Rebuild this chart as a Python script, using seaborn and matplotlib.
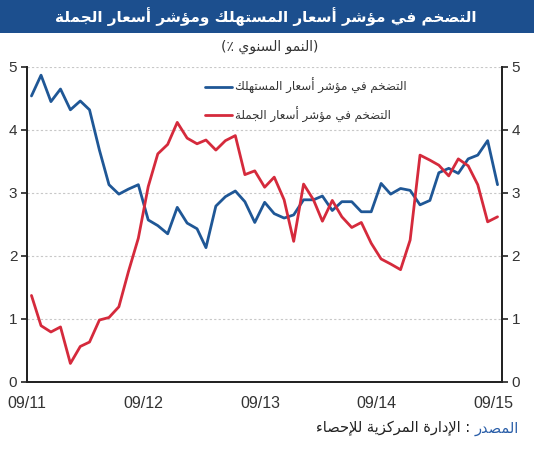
import numpy as np
import pandas as pd
import matplotlib
matplotlib.use("Agg")
import matplotlib.pyplot as plt
from matplotlib.patches import Rectangle
import seaborn as sns

# ---------------- data ----------------
first_month = "2011-09-01"
cpi = [4.54, 4.87, 4.45, 4.65, 4.32, 4.46, 4.32, 3.68, 3.13, 2.98, 3.06, 3.13,
       2.57, 2.48, 2.35, 2.77, 2.52, 2.43, 2.13, 2.79, 2.94, 3.03, 2.86, 2.53,
       2.85, 2.67, 2.60, 2.65, 2.89, 2.89, 2.95, 2.72, 2.86, 2.86, 2.70, 2.70,
       3.15, 2.98, 3.07, 3.04, 2.81, 2.88, 3.32, 3.39, 3.31, 3.54, 3.60, 3.83,
       3.13]
wpi = [1.37, 0.89, 0.79, 0.87, 0.29, 0.56, 0.63, 0.98, 1.02, 1.19, 1.75, 2.28,
       3.10, 3.62, 3.77, 4.12, 3.87, 3.78, 3.84, 3.68, 3.83, 3.91, 3.29, 3.35,
       3.09, 3.25, 2.89, 2.23, 3.14, 2.89, 2.55, 2.88, 2.62, 2.45, 2.53, 2.20,
       1.95, 1.87, 1.78, 2.25, 3.60, 3.52, 3.44, 3.27, 3.54, 3.43, 3.13, 2.54,
       2.62]
tick_dates = ["2011-09-01", "2012-09-01", "2013-09-01", "2014-09-01", "2015-09-01"]
tick_labels = ["09/11", "09/12", "09/13", "09/14", "09/15"]
y_ticks = [0, 1, 2, 3, 4, 5]

title = "التضخم في مؤشر أسعار المستهلك ومؤشر أسعار الجملة"
subtitle = "(النمو السنوي ٪)"
label_cpi = "التضخم في مؤشر أسعار المستهلك"
label_wpi = "التضخم في مؤشر أسعار الجملة"
source_head = "المصدر"
source_body = " : الإدارة المركزية للإحصاء"

# ---------------- Arabic shaping (presentation forms + RTL order) ----------------
FORMS = {
    '\u0621': (0xFE80, 1), '\u0622': (0xFE81, 2), '\u0623': (0xFE83, 2),
    '\u0624': (0xFE85, 2), '\u0625': (0xFE87, 2), '\u0626': (0xFE89, 4),
    '\u0627': (0xFE8D, 2), '\u0628': (0xFE8F, 4), '\u0629': (0xFE93, 2),
    '\u062A': (0xFE95, 4), '\u062B': (0xFE99, 4), '\u062C': (0xFE9D, 4),
    '\u062D': (0xFEA1, 4), '\u062E': (0xFEA5, 4), '\u062F': (0xFEA9, 2),
    '\u0630': (0xFEAB, 2), '\u0631': (0xFEAD, 2), '\u0632': (0xFEAF, 2),
    '\u0633': (0xFEB1, 4), '\u0634': (0xFEB5, 4), '\u0635': (0xFEB9, 4),
    '\u0636': (0xFEBD, 4), '\u0637': (0xFEC1, 4), '\u0638': (0xFEC5, 4),
    '\u0639': (0xFEC9, 4), '\u063A': (0xFECD, 4), '\u0641': (0xFED1, 4),
    '\u0642': (0xFED5, 4), '\u0643': (0xFED9, 4), '\u0644': (0xFEDD, 4),
    '\u0645': (0xFEE1, 4), '\u0646': (0xFEE5, 4), '\u0647': (0xFEE9, 4),
    '\u0648': (0xFEED, 2), '\u0649': (0xFEEF, 2), '\u064A': (0xFEF1, 4),
}
LAMALEF = {'\u0622': 0xFEF5, '\u0623': 0xFEF7, '\u0625': 0xFEF9, '\u0627': 0xFEFB}


def shape_ar(text):
    toks = []
    i = 0
    while i < len(text):
        c = text[i]
        if c == '\u0644' and i + 1 < len(text) and text[i + 1] in LAMALEF:
            toks.append(('LA', text[i + 1]))
            i += 2
        else:
            toks.append(('C', c))
            i += 1

    def joins_next(t):
        return t[0] == 'C' and t[1] in FORMS and FORMS[t[1]][1] == 4

    def joining(t):
        return t[0] == 'LA' or (t[1] in FORMS and FORMS[t[1]][1] >= 2)

    out = []
    for k, t in enumerate(toks):
        prev = toks[k - 1] if k > 0 else None
        nxt = toks[k + 1] if k + 1 < len(toks) else None
        pj = prev is not None and joins_next(prev) and joining(t)
        if t[0] == 'LA':
            base = LAMALEF[t[1]]
            out.append(chr(base + 1 if pj else base))
            continue
        c = t[1]
        if c not in FORMS:
            out.append(c)
            continue
        st, n = FORMS[c]
        nj = n == 4 and nxt is not None and joining(nxt)
        if n == 1:
            out.append(chr(st))
        elif pj and nj:
            out.append(chr(st + 3))
        elif pj:
            out.append(chr(st + 1))
        elif nj:
            out.append(chr(st + 2))
        else:
            out.append(chr(st))
    s = ''.join(out)[::-1]
    return s.translate(str.maketrans('()', ')('))


# ---------------- frame ----------------
dates = pd.date_range(first_month, periods=len(cpi), freq="MS") + pd.Timedelta(days=14)
df = pd.DataFrame({"date": dates, "cpi": cpi, "wpi": wpi})

sns.set_style("white")
plt.rcParams["font.family"] = ["DejaVu Sans"]

W, H = 534, 450
fig = plt.figure(figsize=(W / 100, H / 100), dpi=100)
ax = fig.add_axes([27 / W, 1 - 381.7 / H, (502 - 27) / W, (381.7 - 67) / H])
ax2 = ax.twinx()

blue = "#1f5796"
red = "#d52a3c"
sns.lineplot(data=df, x="date", y="cpi", ax=ax, color=blue, linewidth=2.0,
             label=shape_ar(label_cpi))
sns.lineplot(data=df, x="date", y="wpi", ax=ax, color=red, linewidth=2.0,
             label=shape_ar(label_wpi))

ax.set_xlim(pd.Timestamp("2011-09-01"), pd.Timestamp("2015-09-29"))
for a in (ax, ax2):
    a.set_ylim(0, 5)
    a.set_yticks(y_ticks)
ax.set_xticks(pd.to_datetime(tick_dates))
ax.set_xticklabels(tick_labels, fontfamily="Liberation Sans", fontsize=11.5, color="#333333")
ax.set_yticklabels([str(v) for v in y_ticks], fontfamily="Liberation Sans", fontsize=11, color="#333333")
ax2.set_yticklabels([str(v) for v in y_ticks], fontfamily="Liberation Sans", fontsize=11, color="#333333")
ax.set_xlabel("")
ax.set_ylabel("")
ax2.set_ylabel("")

for y in y_ticks[1:]:
    ax.axhline(y, color="#c8c8c8", linestyle=(0, (2, 2)), linewidth=0.8, zorder=0)

for a in (ax, ax2):
    a.spines["top"].set_visible(False)
    for s in ("left", "right", "bottom"):
        a.spines[s].set_color("#222222")
        a.spines[s].set_linewidth(1.3)
ax.tick_params(axis="both", direction="out", length=4, width=1.2, color="#222222", pad=3)
ax2.tick_params(axis="y", direction="out", length=4, width=1.2, color="#222222", pad=3)
ax.tick_params(axis="x", pad=6)

leg = ax.legend(loc="upper left", bbox_to_anchor=(205 / W, 1 - 78 / H),
                bbox_transform=fig.transFigure, frameon=False, fontsize=8.6,
                handlelength=2.3, handletextpad=0.2, labelspacing=1.05,
                borderpad=0, borderaxespad=0)
for t in leg.get_texts():
    t.set_color("#333333")

# title bar
fig.patches.append(Rectangle((0, 1 - 33 / H), 1, 33 / H, transform=fig.transFigure,
                             facecolor="#1c4f8e", edgecolor="none", zorder=0))
fig.text(266 / W, 1 - 16.5 / H, shape_ar(title), color="white", fontsize=11,
         fontweight="bold", ha="center", va="center")
fig.text(270 / W, 1 - 47 / H, shape_ar(subtitle), color="#333333", fontsize=10,
         ha="center", va="center")

t1 = fig.text(519 / W, 1 - 428 / H, shape_ar(source_head), color="#2a5ea8",
              fontsize=10.5, ha="right", va="center")
ax.annotate(shape_ar(source_body), xy=(0, 0.5), xycoords=t1, ha="right", va="center",
            fontsize=10.5, color="#222222", annotation_clip=False)

fig.savefig("out.png", dpi=100)
